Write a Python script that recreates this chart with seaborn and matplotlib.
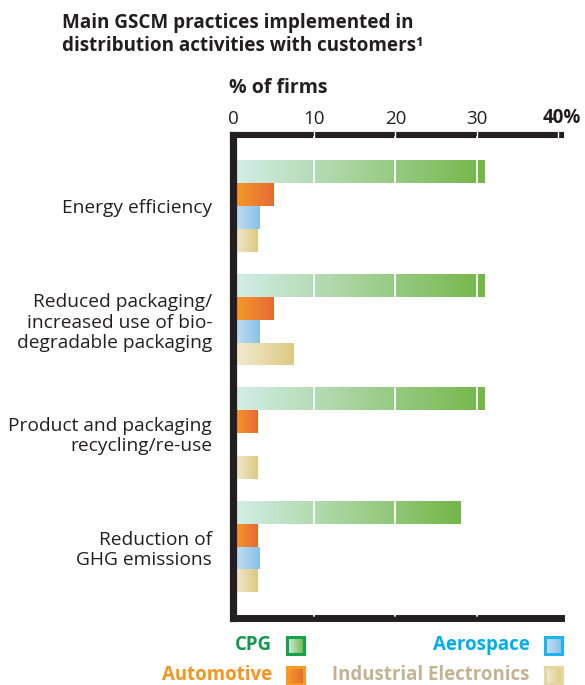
import numpy as np
import pandas as pd
import matplotlib
matplotlib.use("Agg")
import matplotlib.pyplot as plt
from matplotlib.colors import LinearSegmentedColormap
from matplotlib.transforms import ScaledTranslation
import seaborn as sns

# ---- data -------------------------------------------------------------
practices = [
    "Energy efficiency",
    "Reduced packaging/\nincreased use of bio-\ndegradable packaging",
    "Product and packaging\nrecycling/re-use",
    "Reduction of\nGHG emissions",
]
sectors = ["CPG", "Automotive", "Aerospace", "Industrial Electronics"]
cpg = [31, 31, 31, 28]
automotive = [5, 5, 3, 3]
aerospace = [3.3, 3.3, 0, 3.3]
industrial = [3, 7.4, 3, 3]
x_ticks = [0, 10, 20, 30, 40]
x_tick_labels = ["0", "10", "20", "30", "40%"]

# ---- styling ----------------------------------------------------------
gradients = {
    "CPG": ("#d4eee9", "#74b648"),
    "Automotive": ("#f69c25", "#e76a36"),
    "Aerospace": ("#c8e0f4", "#89c2e6"),
    "Industrial Electronics": ("#f3ecd5", "#dec981"),
}
legend_text_colors = {
    "CPG": "#10994a",
    "Automotive": "#f7941d",
    "Aerospace": "#00aeef",
    "Industrial Electronics": "#c4b393",
}
legend_edge_colors = {
    "CPG": "#14a04c",
    "Automotive": "#f59a2a",
    "Aerospace": "#1fb3ef",
    "Industrial Electronics": "#e4d7a2",
}
ink = "#231f20"
font = "Open Sans"

sns.set_theme(style="white")
plt.rcParams["font.family"] = [font, "DejaVu Sans"]

values = [cpg, automotive, aerospace, industrial]
df = pd.DataFrame(
    [(p, s, v[i]) for s, v in zip(sectors, values) for i, p in enumerate(practices)],
    columns=["practice", "sector", "pct"],
)

W, H = 585, 685
fig = plt.figure(figsize=(W / 100, H / 100), dpi=100)
ax = fig.add_axes([233 / W, 1 - 618 / H, 328 / W, 483 / H])

flat_palette = {s: gradients[s][1] for s in sectors}
sns.barplot(
    data=df, x="pct", y="practice", hue="sector", order=practices,
    hue_order=sectors, orient="h", width=0.81, palette=flat_palette,
    saturation=1, linewidth=0, legend=False, ax=ax,
)

# replace each flat bar with a horizontal colour gradient
ramp = np.linspace(0, 1, 256).reshape(1, -1)
for sector, container in zip(sectors, ax.containers):
    cmap = LinearSegmentedColormap.from_list(sector, gradients[sector])
    for bar in container:
        w = bar.get_width()
        if w <= 0:
            continue
        x0, y0, h = bar.get_x(), bar.get_y(), bar.get_height()
        bar.set_facecolor("none")
        im = ax.imshow(ramp, cmap=cmap, aspect="auto", extent=(x0, x0 + w, y0 + h, y0),
                       interpolation="bilinear", zorder=2)
        im.set_clip_path(bar)

ax.set_xlim(0, 40.4)
ax.set_ylim(3.63, -0.626)

# white gridlines showing through the bars
for t in x_ticks[1:-1]:
    ax.axvline(t, color="white", lw=1.3, ymin=0.005, ymax=0.995, zorder=3)

# frame: heavy left, top and bottom rules
ax.spines["right"].set_visible(False)
for side, lw in [("left", 5.2), ("top", 4.4), ("bottom", 5.0)]:
    ax.spines[side].set_visible(True)
    ax.spines[side].set_color(ink)
    ax.spines[side].set_linewidth(lw)

# notches in the top rule at each tick
xt = ax.get_xaxis_transform()
for t in x_ticks[1:]:
    ax.plot([t, t], [0.993, 1.009], color="white", lw=1.0, transform=xt,
            clip_on=False, zorder=5, solid_capstyle="butt")

ax.xaxis.tick_top()
ax.set_xticks(x_ticks)
ax.set_xticklabels(x_tick_labels)
ax.tick_params(axis="x", length=0, pad=5, labelsize=13.5, labelcolor=ink)
last = ax.get_xticklabels()[-1]
last.set_fontweight("bold")
last.set_horizontalalignment("left")
last.set_transform(last.get_transform() + ScaledTranslation(-15 / 100, 0, fig.dpi_scale_trans))

ax.set_xlabel("")
ax.set_ylabel("")
ax.tick_params(axis="y", length=0, pad=15, labelsize=13.8, labelcolor=ink)
for lab in ax.get_yticklabels():
    lab.set_linespacing(1.17)

# titles
fig.text(62 / W, 1 - 13 / H,
         "Main GSCM practices implemented in\ndistribution activities with customers\u00b9",
         ha="left", va="top", fontsize=13.6, fontweight="bold", color=ink, linespacing=1.22)
fig.text(229 / W, 1 - 88 / H, "% of firms", ha="left", va="center",
         fontsize=14, fontweight="bold", color=ink)

# legend: label followed by a small gradient swatch
legend_items = [
    ("CPG", 272, 645, 287),
    ("Automotive", 272, 675, 287),
    ("Aerospace", 530, 645, 545),
    ("Industrial Electronics", 530, 675, 545),
]
for name, tx, ty, sx in legend_items:
    fig.text(tx / W, 1 - ty / H, name, ha="right", va="center", fontsize=13.4,
             fontweight="bold", color=legend_text_colors[name])
    size = 17
    sax = fig.add_axes([sx / W, 1 - (ty + size / 2) / H, size / W, size / H])
    cmap = LinearSegmentedColormap.from_list(name + "_sw", gradients[name])
    sax.imshow(ramp, cmap=cmap, aspect="auto", extent=(0, 1, 0, 1), interpolation="bilinear")
    sax.set_xticks([])
    sax.set_yticks([])
    for sp in sax.spines.values():
        sp.set_color(legend_edge_colors[name])
        sp.set_linewidth(2.2)

fig.savefig("out.png", dpi=100)
